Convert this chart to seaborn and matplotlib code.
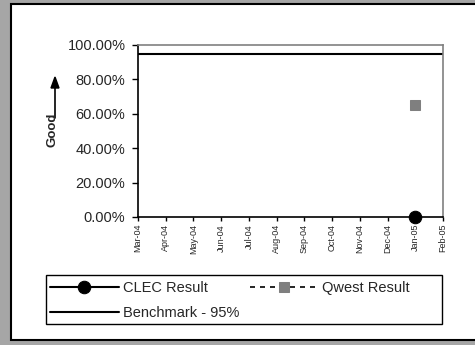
import pandas as pd
import numpy as np
import matplotlib.pyplot as plt
import seaborn as sns
from matplotlib.patches import Rectangle

# datos
meses = ["Mar-04", "Apr-04", "May-04", "Jun-04", "Jul-04", "Aug-04",
         "Sep-04", "Oct-04", "Nov-04", "Dec-04", "Jan-05", "Feb-05"]
clec_mes = ["Jan-05"]
clec_valores = [0.0]
qwest_mes = ["Jan-05"]
qwest_valores = [65.0]
benchmark = [95.0] * len(meses)

sns.set_style("white")
plt.rcParams["font.family"] = ["Liberation Sans", "DejaVu Sans"]

df_clec = pd.DataFrame({"pos": [meses.index(m) for m in clec_mes], "valor": clec_valores})
df_qwest = pd.DataFrame({"pos": [meses.index(m) for m in qwest_mes], "valor": qwest_valores})
df_bench = pd.DataFrame({"pos": range(len(meses)), "valor": benchmark})

fig = plt.figure(figsize=(4.75, 3.45), dpi=100, facecolor="#a6a6a6")
# panel blanco con borde
fig.patches.append(Rectangle((11 / 475, 1 - 340 / 345), 1.0, 336 / 345,
                             transform=fig.transFigure, facecolor="white",
                             edgecolor="black", linewidth=1.5, zorder=-5))

ax = fig.add_axes([138 / 475, 1 - 217 / 345, 305 / 475, 172 / 345])
ax.set_zorder(2)
ax.set_facecolor("white")

sns.lineplot(data=df_bench, x="pos", y="valor", color="black", linewidth=1.5,
             ax=ax, label="Benchmark - 95%")
sns.lineplot(data=df_clec, x="pos", y="valor", color="black", linewidth=1.5,
             marker="o", markersize=9, markeredgecolor="black", ax=ax,
             label="CLEC Result", clip_on=False, zorder=5)
sns.lineplot(data=df_qwest, x="pos", y="valor", color="black", linewidth=1.2,
             linestyle=(0, (3, 3)), marker="s", markersize=7,
             markerfacecolor="#7f7f7f", markeredgecolor="#7f7f7f", ax=ax,
             label="Qwest Result")

ax.set_xlim(0, len(meses) - 1)
ax.set_ylim(0, 100)
ax.set_xticks(range(len(meses)))
ax.set_xticklabels(meses, rotation=90, fontsize=6.5)
ax.set_yticks([0, 20, 40, 60, 80, 100])
ax.set_yticklabels([f"{v:.2f}%" for v in [0, 20, 40, 60, 80, 100]], fontsize=10.5)
ax.tick_params(axis="y", direction="out", length=4, width=1, color="black",
               left=True, pad=5)
ax.tick_params(axis="x", direction="out", length=3, width=1, color="black",
               bottom=True, pad=2)
ax.set_xlabel("")
ax.set_ylabel("")
for lado in ["left", "bottom"]:
    ax.spines[lado].set_color("black")
    ax.spines[lado].set_linewidth(1.2)
for lado in ["top", "right"]:
    ax.spines[lado].set_visible(True)
    ax.spines[lado].set_color("#808080")
    ax.spines[lado].set_linewidth(1.2)

# etiqueta "Good" con flecha
fig.text(52 / 475, 1 - 130 / 345, "Good", rotation=90, fontsize=9.5,
         fontweight="bold", ha="center", va="center")
fig.add_artist(plt.Line2D([55 / 475, 55 / 475], [1 - 118 / 345, 1 - 84 / 345],
                          transform=fig.transFigure, color="black", linewidth=1.2))
fig.add_artist(plt.Polygon([[51 / 475, 1 - 88 / 345], [59 / 475, 1 - 88 / 345],
                            [55 / 475, 1 - 77 / 345]], closed=True,
                           transform=fig.transFigure, color="black"))

# leyenda: caja aparte y entradas sin marco
fig.add_artist(Rectangle((46 / 475, 1 - 324 / 345), 396 / 475, 49 / 345,
                         transform=fig.transFigure, facecolor="white",
                         edgecolor="black", linewidth=1.0))
handles, labels = ax.get_legend_handles_labels()
orden = [labels.index("CLEC Result"), labels.index("Benchmark - 95%"), labels.index("Qwest Result")]
ax.get_legend().remove()
leg = fig.legend([handles[i] for i in orden], [labels[i] for i in orden],
                 loc="upper left", bbox_to_anchor=(50 / 475, 1 - 281 / 345),
                 ncol=2, fontsize=10.5, frameon=False,
                 handlelength=4.7, handletextpad=0.3, columnspacing=0.7,
                 borderpad=0, labelspacing=0.75, borderaxespad=0)

fig.savefig("out.png", dpi=100, facecolor=fig.get_facecolor())
